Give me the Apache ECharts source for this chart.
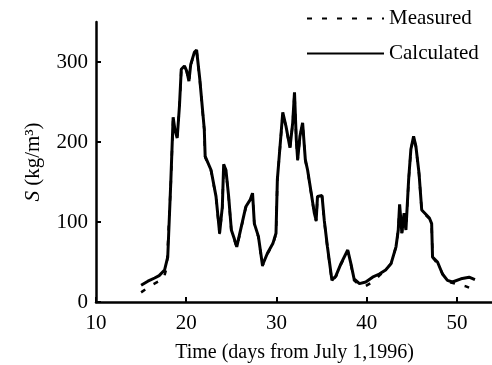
<!DOCTYPE html>
<html>
<head>
<meta charset="utf-8">
<script src="https://cdn.jsdelivr.net/npm/echarts@6/dist/echarts.min.js"></script>
<style>html,body{margin:0;padding:0;background:#fff}#c{width:492px;height:365px}</style>
</head>
<body>
<div id="c"></div>
<script>
var xTicks = [10, 20, 30, 40, 50];
var yTicks = [0, 100, 200, 300];
var seriesNames = ['Measured', 'Calculated'];

var calculated = [
  [15.0,21],[15.75,26],[16.5,30],[17.0,33],[17.6,40],[17.95,56],[18.3,153],[18.55,231],[18.75,215],
  [19.0,205],[19.25,245],[19.45,291],[19.8,295],[20.05,289],[20.3,276],[20.5,297],[20.9,312],[21.15,315],
  [21.5,279],[21.8,241],[22.0,216],[22.1,182],[22.75,165],[23.3,132],[23.7,86],[24.0,119],[24.15,172],
  [24.4,165],[24.7,132],[25.0,90],[25.3,80],[25.6,69],[26.1,94],[26.6,119],[27.1,128],[27.35,136],
  [27.55,98],[28.0,82],[28.45,46],[29.0,61],[29.6,73],[29.95,86],[30.1,153],[30.4,195],[30.7,237],
  [31.05,220],[31.5,193],[31.8,224],[32.0,262],[32.2,203],[32.35,178],[32.6,207],[32.9,224],[33.2,178],
  [33.45,165],[33.8,140],[34.2,111],[34.4,102],[34.55,132],[35.05,133],[35.3,102],[35.65,69],[36.15,27],
  [36.6,33],[37.15,48],[37.9,65],[38.25,48],[38.6,29],[39.2,23],[39.9,25],[40.65,31],[41.4,35],
  [42.1,40],[42.7,48],[43.25,69],[43.5,90],[43.65,122],[43.9,86],[44.15,111],[44.35,90],[44.65,153],
  [44.9,191],[45.2,207],[45.45,195],[45.8,161],[46.1,115],[46.95,105],[47.2,98],[47.3,56],[47.85,50],
  [48.4,35],[48.95,27],[49.5,25],[50.45,29],[51.35,31],[52.0,28]
];

var measured = [
  [15.0,12],[16.3,22],[17.5,29],[17.85,44],[18.3,150],[18.55,229],[18.75,213],
  [19.0,204],[19.25,243],[19.45,290],[19.8,294],[20.05,288],[20.3,275],[20.5,296],[20.9,311],[21.15,314],
  [21.5,278],[21.8,240],[22.0,215],[22.1,181],[22.75,164],[23.3,131],[23.7,85],[24.0,118],[24.15,171],
  [24.4,164],[24.7,131],[25.0,89],[25.3,79],[25.6,68],[26.1,93],[26.6,118],[27.1,127],[27.35,135],
  [27.55,97],[28.0,81],[28.45,45],[29.0,60],[29.6,72],[29.95,85],[30.1,152],[30.4,194],[30.7,236],
  [31.05,219],[31.5,192],[31.8,223],[32.0,261],[32.2,202],[32.35,177],[32.6,206],[32.9,223],[33.2,177],
  [33.45,164],[33.8,139],[34.2,110],[34.4,101],[34.55,131],[35.05,132],[35.3,101],[35.65,68],[36.15,26],
  [36.6,32],[37.15,47],[37.9,64],[38.25,47],[38.6,27],[39.2,21],[39.9,20],[40.65,25],[41.4,33],
  [42.1,40],[42.7,48],[43.25,69],[43.5,90],[43.65,121],[43.9,86],[44.15,110],[44.35,90],[44.65,152],
  [44.9,190],[45.2,206],[45.45,194],[45.8,160],[46.1,114],[46.95,104],[47.2,97],[47.3,56],[47.7,50],
  [48.2,40],[48.6,31],[49.15,25],[50.1,22],[51.0,19.5],[51.35,18]
];

var FONT = 'Liberation Serif';
var chart = echarts.init(document.getElementById('c'), null, {renderer: 'canvas'});
chart.setOption({
  animation: false,
  backgroundColor: '#fff',
  grid: {left: 96, top: 22, width: 397, height: 280, containLabel: false, outerBoundsMode: 'none'},
  legend: {
    orient: 'vertical', left: 306, top: 8, padding: 0,
    itemWidth: 77, itemHeight: 14, itemGap: 14,
    itemStyle: {opacity: 0},
    textStyle: {fontFamily: FONT, fontSize: 21, color: '#000'},
    data: seriesNames
  },
  xAxis: {
    type: 'value', min: 10, max: 54, interval: 10,
    name: 'Time (days from July 1,1996)', nameLocation: 'middle', nameGap: 41,
    nameTextStyle: {fontFamily: FONT, fontSize: 20, color: '#000'},
    axisLine: {lineStyle: {color: '#000', width: 2.5}},
    axisTick: {inside: true, length: 5, lineStyle: {color: '#000', width: 2}, customValues: xTicks},
    axisLabel: {fontFamily: FONT, fontSize: 21, color: '#000', margin: 11, customValues: xTicks},
    splitLine: {show: false}
  },
  yAxis: {
    type: 'value', min: 0, max: 350, interval: 100,
    name: '{i|S} (kg/m³)', nameLocation: 'middle', nameGap: 52, nameRotate: 90,
    nameTextStyle: {fontFamily: FONT, fontSize: 21, color: '#000',
      rich: {i: {fontFamily: FONT, fontSize: 21, fontStyle: 'italic', color: '#000'}}},
    axisLine: {lineStyle: {color: '#000', width: 2.5}},
    axisTick: {inside: true, length: 5, lineStyle: {color: '#000', width: 2}, customValues: yTicks},
    axisLabel: {fontFamily: FONT, fontSize: 21, color: '#000', margin: 8, customValues: yTicks},
    splitLine: {show: false}
  },
  series: [
    {name: seriesNames[0], type: 'line', data: measured, symbol: 'none', z: 2,
     lineStyle: {color: '#000', width: 2.5, type: [5, 10]}, itemStyle: {color: '#000'}},
    {name: seriesNames[1], type: 'line', data: calculated, symbol: 'none', z: 3,
     lineStyle: {color: '#000', width: 3}, itemStyle: {color: '#000'}}
  ]
});
</script>
</body>
</html>
